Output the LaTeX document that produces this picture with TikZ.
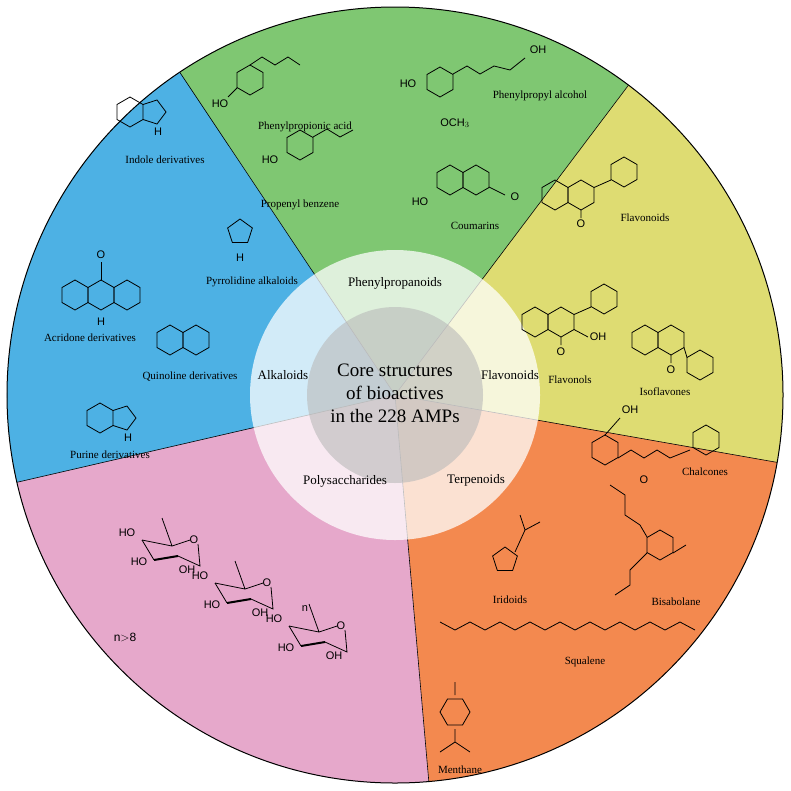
\documentclass[tikz,border=0pt]{standalone}
\usepackage{fontspec}
\setmainfont{Liberation Serif}
\newfontfamily\atomfont{Liberation Sans}
\definecolor{secblue}{RGB}{77,177,228}
\definecolor{secgreen}{RGB}{127,199,114}
\definecolor{secyellow}{RGB}{222,220,114}
\definecolor{secorange}{RGB}{243,137,79}
\definecolor{secpink}{RGB}{230,168,203}
\newcommand\ring[3]{\draw[shift={(#1,#2)}] (90+#3:15) -- (150+#3:15) -- (210+#3:15) -- (270+#3:15) -- (330+#3:15) -- (30+#3:15) -- cycle;}
\newcommand\penta[2]{\draw[shift={(#1,#2)}] (-90:13) -- (-18:13) -- (54:13) -- (126:13) -- (198:13) -- cycle;}
\newcommand\fivefused[2]{\draw[shift={(#1,#2)}] (13,-7.5) -- (27,-12) -- (36,0) -- (27,12) -- (13,7.5);}
\newcommand\sugar[2]{\begin{scope}[shift={(#1,#2)}]
  \draw (0,0) -- (12,20);
  \draw[line width=2pt] (12,20) -- (36,16);
  \draw (36,16) -- (58,26) -- (56,4) (48,0) -- (30,6) -- (0,0) (30,6) -- (25,-8) -- (20,-22);
  \node[atom] at (52,0) {O};
  \node[atom] at (-15,-7) {HO};
  \node[atom] at (-3,22) {HO};
  \node[atom] at (45,30) {OH};
\end{scope}}
\begin{document}
\begin{tikzpicture}[x=1pt,y=-1pt, line width=0.8pt,
  lbl/.style = {font=\fontsize{11}{13}\selectfont},
  atom/.style = {font=\atomfont\fontsize{11}{13}\selectfont, inner sep=1pt},
  cls/.style = {font=\fontsize{13}{15}\selectfont}]
\useasboundingbox (0,0) rectangle (791,790);
\coordinate (c) at (395,395);
% sectors
\fill[secgreen]  (c) -- ++(-123.7:388) arc[start angle=-123.7, end angle=-53, radius=388] -- cycle;
\fill[secyellow] (c) -- ++(-53:388) arc[start angle=-53, end angle=10, radius=388] -- cycle;
\fill[secorange] (c) -- ++(10:388) arc[start angle=10, end angle=85, radius=388] -- cycle;
\fill[secpink]   (c) -- ++(85:388) arc[start angle=85, end angle=167, radius=388] -- cycle;
\fill[secblue]   (c) -- ++(167:388) arc[start angle=167, end angle=236.3, radius=388] -- cycle;
\foreach \a in {-123.7,-53,10,85,167} \draw[line width=0.6pt] (c) -- ++(\a:388);
\draw[line width=1pt] (c) circle[radius=388];
% inner circles
\fill[white, opacity=0.75] (c) circle[radius=145];
\fill[gray!55, opacity=0.6] (c) circle[radius=88];
\node[font=\fontsize{19}{23}\selectfont, align=center] (core) at (395,393) {Core structures\\of bioactives\\in the 228 AMPs};
\node[cls] (phe) at (395,283) {Phenylpropanoids};
\node[cls] (alk) at (283,375) {Alkaloids};
\node[cls] (fla) at (510,375) {Flavonoids};
\node[cls] (pol) at (345,481) {Polysaccharides};
\node[cls] (ter) at (476,480) {Terpenoids};
% phenylpropanoids
\ring{250}{80}{0}
\draw (250,65) -- (262,57) -- (275,65) -- (288,57) -- (300,65) (237,88) -- (228,97);
\node[atom] at (220,104) {HO};
\node[lbl] (l1) at (305,127) {Phenylpropionic acid};
\ring{440}{82}{0}
\draw (453,74) -- (467,66) -- (480,74) -- (494,66) -- (510,70) -- (525,58);
\node[atom] at (538,50) {OH};
\node[atom] at (408,84) {HO};
\node[atom] at (455,123) {OCH$_3$};
\node[lbl] (l2) at (540,96) {Phenylpropyl alcohol};
\ring{300}{145}{0}
\draw (313,137) -- (327,129) -- (340,137) -- (353,130);
\node[atom] at (270,160) {HO};
\node[lbl] (l3) at (300,205) {Propenyl benzene};
\ring{450}{180}{0}\ring{476}{180}{0}
\draw (489,187) -- (505,195);
\node[atom] at (420,202) {HO};
\node[atom] at (515,197) {O};
\node[lbl] (l4) at (475,226) {Coumarins};
% alkaloids
\ring{130}{112}{0}\fivefused{130}{112}
\node[atom] at (158,132) {H};
\node[lbl] (l5) at (165,160) {Indole derivatives};
\penta{240}{232}
\node[atom] at (240,258) {H};
\node[lbl] (l6) at (252,282) {Pyrrolidine alkaloids};
\ring{75}{295}{0}\ring{101}{295}{0}\ring{127}{295}{0}
\draw (101,280) -- (101,262);
\node[atom] at (101,255) {O};
\node[atom] at (101,322) {H};
\node[lbl] (l7) at (90,338) {Acridone derivatives};
\ring{170}{340}{0}\ring{196}{340}{0}
\node[lbl] (l8) at (190,377) {Quinoline derivatives};
\ring{100}{418}{0}\fivefused{100}{418}
\node[atom] at (128,438) {H};
\node[lbl] (l9) at (110,455) {Purine derivatives};
% flavonoids
\ring{555}{195}{0}\ring{581}{195}{0}\ring{624}{172}{0}
\draw (594,187.5) -- (611,180) (581,210) -- (581,218);
\node[atom] at (581,224) {O};
\node[lbl] (l10) at (645,218) {Flavonoids};
\ring{535}{322}{0}\ring{561}{322}{0}\ring{604}{299}{0}
\draw (574,314.5) -- (591,307) (561,337) -- (561,345) (574,329.5) -- (588,337);
\node[atom] at (561,352) {O};
\node[atom] at (598,337) {OH};
\node[lbl] (l11) at (570,380) {Flavonols};
\ring{645}{340}{0}\ring{671}{340}{0}\ring{700}{365}{0}
\draw (684,347.5) -- (687,357.5) (671,355) -- (671,363);
\node[atom] at (671,370) {O};
\node[lbl] (l12) at (665,392) {Isoflavones};
\ring{605}{450}{0}\ring{706}{440}{0}
\draw (618,458) -- (631,450) -- (644,458) -- (657,450) -- (670,458) -- (690,450) (605,435) -- (620,418);
\node[atom] at (630,410) {OH};
\node[atom] at (644,480) {O};
\node[lbl] (l13) at (705,472) {Chalcones};
% terpenoids
\penta{505}{560}
\draw (515,552) -- (525,530) -- (540,522) (525,530) -- (520,515);
\node[lbl] (l14) at (510,600) {Iridoids};
\ring{660}{545}{0}
\draw (647,537) -- (640,525) -- (625,515) -- (625,495) -- (610,485)
      (673,553) -- (686,545) (647,553) -- (630,570) -- (630,585) -- (615,595);
\node[lbl] (l15) at (676,602) {Bisabolane};
\draw (440,622) \foreach \i in {1,...,17} { -- (440+\i*15,{622+mod(\i,2)*8})};
\node[lbl] (l16) at (585,662) {Squalene};
\ring{455}{712}{30}
\draw (455,695) -- (455,682) (455,729) -- (455,742) -- (440,752) (455,742) -- (470,752);
\node[lbl] (l17) at (460,770) {Menthane};
% polysaccharides
\sugar{142}{540}
\sugar{215}{583}
\sugar{289}{626}
\node[atom, font=\atomfont\fontsize{12}{14}\selectfont] (l18) at (125,637) {n$>$8};
\node[atom] at (305,609) {n};
\end{tikzpicture}
\end{document}
